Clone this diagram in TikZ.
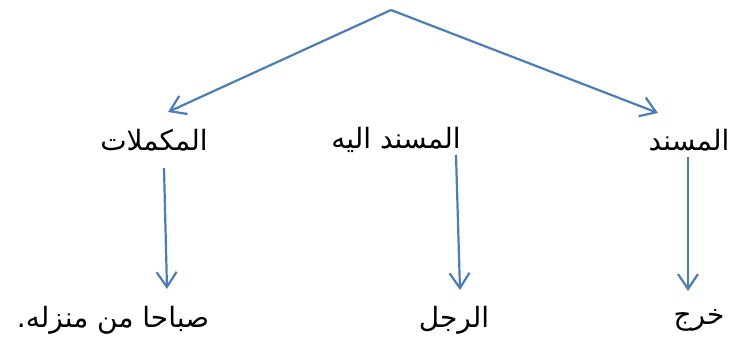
\documentclass[tikz,border=0pt]{standalone}
\usepackage{fontspec}
\usetikzlibrary{arrows.meta}
\TeXXeTstate=1
\newfontfamily\arabicfont[Script=Arabic]{DejaVu Sans}
\definecolor{lineblue}{RGB}{74,126,187}
\tikzset{
  lbl/.style={font=\arabicfont\fontsize{28}{32}\selectfont, text=black, inner sep=0pt},
  conn/.style={draw=lineblue, line width=2.2pt, -{Straight Barb[length=15pt,width=20pt,line width=2.2pt]}}
}
\begin{document}
\begin{tikzpicture}[x=1pt,y=1pt]
\useasboundingbox (0,0) rectangle (731,341);
\coordinate (top) at (391,331);
\node[lbl] (m1) at (154,201) {\beginR المكملات\endR};
\node[lbl] (m2) at (396,201) {\beginR المسند اليه\endR};
\node[lbl] (m3) at (689,201) {\beginR المسند\endR};
\node[lbl] (b1) at (113,21) {\beginR صباحا من منزله.\endR};
\node[lbl] (b2) at (454,21) {\beginR الرجل\endR};
\node[lbl] (b3) at (699,21) {\beginR خرج\endR};
\coordinate (t1) at (168,229);
\coordinate (t3) at (658,228);
\coordinate (s1) at (164,173);
\coordinate (e1) at (167,52);
\coordinate (s2) at (456,186);
\coordinate (e2) at (460,51);
\coordinate (s3) at (688,184);
\coordinate (e3) at (688,50);
\draw[conn] (top) -- (t1);
\draw[conn] (top) -- (t3);
\draw[conn] (s1) -- (e1);
\draw[conn] (s2) -- (e2);
\draw[conn] (s3) -- (e3);
\end{tikzpicture}
\end{document}
